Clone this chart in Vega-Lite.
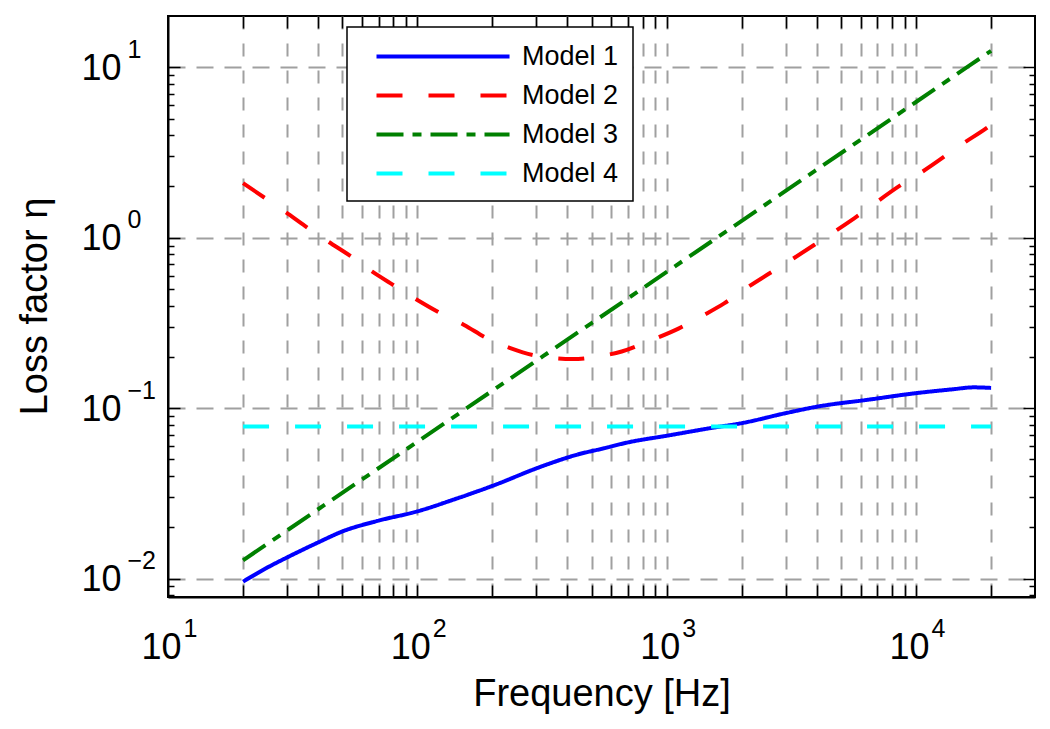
{
  "$schema": "https://vega.github.io/schema/vega-lite/v6.json",
  "width": 867,
  "height": 581,
  "autosize": {"type": "none"},
  "padding": {"left": 168, "top": 16, "right": 15, "bottom": 132},
  "background": "white",
  "config": {
    "font": "Liberation Sans",
    "view": {"stroke": "black", "strokeWidth": 2},
    "axis": {"labelFont": "Liberation Sans", "titleFont": "Liberation Sans", "labelColor": "black", "titleColor": "black", "titleFontWeight": "normal", "labelOverlap": false, "labelFlush": false, "labelBound": false}
  },
  "data": {
    "values": [
      {"model": "Model 1", "f": 20, "eta": 0.0096},
      {"model": "Model 1", "f": 25, "eta": 0.0116},
      {"model": "Model 1", "f": 30, "eta": 0.0133},
      {"model": "Model 1", "f": 40, "eta": 0.0163},
      {"model": "Model 1", "f": 50, "eta": 0.0189},
      {"model": "Model 1", "f": 70, "eta": 0.0219},
      {"model": "Model 1", "f": 100, "eta": 0.0248},
      {"model": "Model 1", "f": 140, "eta": 0.0291},
      {"model": "Model 1", "f": 200, "eta": 0.035},
      {"model": "Model 1", "f": 320, "eta": 0.0459},
      {"model": "Model 1", "f": 440, "eta": 0.0535},
      {"model": "Model 1", "f": 550, "eta": 0.0578},
      {"model": "Model 1", "f": 700, "eta": 0.063},
      {"model": "Model 1", "f": 1000, "eta": 0.0689},
      {"model": "Model 1", "f": 1500, "eta": 0.0764},
      {"model": "Model 1", "f": 2000, "eta": 0.0817},
      {"model": "Model 1", "f": 3000, "eta": 0.0935},
      {"model": "Model 1", "f": 4000, "eta": 0.102},
      {"model": "Model 1", "f": 6400, "eta": 0.112},
      {"model": "Model 1", "f": 10000, "eta": 0.1225},
      {"model": "Model 1", "f": 14000, "eta": 0.129},
      {"model": "Model 1", "f": 17000, "eta": 0.1325},
      {"model": "Model 1", "f": 20000, "eta": 0.1315},
      {"model": "Model 2", "f": 20, "eta": 2.09},
      {"model": "Model 2", "f": 24.5, "eta": 1.71},
      {"model": "Model 2", "f": 29.5, "eta": 1.42},
      {"model": "Model 2", "f": 35.5, "eta": 1.17},
      {"model": "Model 2", "f": 44, "eta": 0.947},
      {"model": "Model 2", "f": 54, "eta": 0.78},
      {"model": "Model 2", "f": 66, "eta": 0.632},
      {"model": "Model 2", "f": 80, "eta": 0.528},
      {"model": "Model 2", "f": 100, "eta": 0.431},
      {"model": "Model 2", "f": 124, "eta": 0.36},
      {"model": "Model 2", "f": 154, "eta": 0.308},
      {"model": "Model 2", "f": 190, "eta": 0.257},
      {"model": "Model 2", "f": 236, "eta": 0.225},
      {"model": "Model 2", "f": 300, "eta": 0.203},
      {"model": "Model 2", "f": 420, "eta": 0.194},
      {"model": "Model 2", "f": 540, "eta": 0.202},
      {"model": "Model 2", "f": 660, "eta": 0.215},
      {"model": "Model 2", "f": 840, "eta": 0.246},
      {"model": "Model 2", "f": 1120, "eta": 0.294},
      {"model": "Model 2", "f": 1410, "eta": 0.352},
      {"model": "Model 2", "f": 1700, "eta": 0.412},
      {"model": "Model 2", "f": 2080, "eta": 0.505},
      {"model": "Model 2", "f": 3150, "eta": 0.74},
      {"model": "Model 2", "f": 3900, "eta": 0.906},
      {"model": "Model 2", "f": 5650, "eta": 1.3},
      {"model": "Model 2", "f": 8700, "eta": 2.04},
      {"model": "Model 2", "f": 10600, "eta": 2.44},
      {"model": "Model 2", "f": 15600, "eta": 3.61},
      {"model": "Model 2", "f": 19100, "eta": 4.38},
      {"model": "Model 2", "f": 20000, "eta": 4.6},
      {"model": "Model 3", "f": 20, "eta": 0.0128},
      {"model": "Model 3", "f": 100, "eta": 0.0635},
      {"model": "Model 3", "f": 1000, "eta": 0.63},
      {"model": "Model 3", "f": 10000, "eta": 6.26},
      {"model": "Model 3", "f": 20000, "eta": 12.5},
      {"model": "Model 4", "f": 20, "eta": 0.078},
      {"model": "Model 4", "f": 20000, "eta": 0.078}
    ]
  },
  "layer": [
    {
      "mark": {"type": "line", "strokeWidth": 4, "interpolate": "monotone", "clip": true},
      "encoding": {
        "x": {
          "field": "f", "type": "quantitative",
          "scale": {"type": "log", "domain": [10, 30000], "nice": false},
          "axis": {
            "orient": "bottom",
            "values": [20, 30, 40, 50, 60, 70, 80, 90, 100, 200, 300, 400, 500, 600, 700, 800, 900, 1000, 2000, 3000, 4000, 5000, 6000, 7000, 8000, 9000, 10000, 20000],
            "grid": true, "gridColor": "#a0a0a0", "gridDash": [13, 14], "gridWidth": 2,
            "ticks": true, "tickSize": -12, "tickColor": "black", "tickWidth": 1.5,
            "labels": false,
            "domain": true, "domainColor": "black", "domainWidth": 2,
            "title": "Frequency [Hz]", "titleFontSize": 38, "titleY": 108, "titleBaseline": "alphabetic"
          }
        },
        "y": {
          "field": "eta", "type": "quantitative",
          "scale": {"type": "log", "domain": [0.0078, 20], "nice": false},
          "axis": {
            "orient": "left",
            "values": [0.008, 0.009, 0.01, 0.02, 0.03, 0.04, 0.05, 0.06, 0.07, 0.08, 0.09, 0.1, 0.2, 0.3, 0.4, 0.5, 0.6, 0.7, 0.8, 0.9, 1, 2, 3, 4, 5, 6, 7, 8, 9, 10],
            "grid": true, "gridColor": "#a0a0a0", "gridDash": [17, 11], "gridWidth": 2,
            "gridOpacity": {"condition": {"test": "indexof([0.01, 0.1, 1, 10], datum.value) >= 0", "value": 1}, "value": 0},
            "ticks": true, "tickColor": "black", "tickWidth": 1.5,
            "tickSize": {"condition": {"test": "indexof([0.01, 0.1, 1, 10], datum.value) >= 0", "value": -12}, "value": -6},
            "labels": false,
            "domain": true, "domainColor": "black", "domainWidth": 2,
            "title": "Loss factor η", "titleFontSize": 38, "titleX": -122, "titleY": 290, "titleBaseline": "alphabetic", "titleAngle": -90
          }
        },
        "color": {
          "field": "model", "type": "nominal",
          "scale": {"domain": ["Model 1", "Model 2", "Model 3", "Model 4"], "range": ["#0000ff", "#ff0000", "#008000", "#00ffff"]},
          "legend": {
            "title": null, "orient": "none", "legendX": 179, "legendY": 11,
            "symbolType": "M0,0H10", "symbolSize": 708, "symbolStrokeWidth": 4,
            "labelFontSize": 27, "labelFont": "Liberation Sans", "labelColor": "black", "labelOffset": 130, "labelLimit": 0,
            "rowPadding": 10, "padding": 14, "strokeColor": "black", "fillColor": "white",
            "encode": {"legend": {"update": {"strokeWidth": {"value": 1.5}}}}
          }
        },
        "strokeDash": {
          "field": "model", "type": "nominal",
          "scale": {"domain": ["Model 1", "Model 2", "Model 3", "Model 4"], "range": [[1, 0], [26, 26], [27, 9, 9, 9], [26, 26]]},
          "legend": {
            "title": null, "orient": "none", "legendX": 179, "legendY": 11,
            "symbolType": "M0,0H10", "symbolSize": 708, "symbolStrokeWidth": 4,
            "labelFontSize": 27, "labelFont": "Liberation Sans", "labelColor": "black", "labelOffset": 130, "labelLimit": 0,
            "rowPadding": 10, "padding": 14, "strokeColor": "black", "fillColor": "white",
            "encode": {"legend": {"update": {"strokeWidth": {"value": 1.5}}}}
          }
        }
      }
    },
    {
      "mark": {"type": "line", "strokeOpacity": 0},
      "encoding": {
        "x": {
          "field": "f", "type": "quantitative",
          "scale": {"type": "log", "domain": [10, 30000], "nice": false},
          "axis": {"orient": "bottom", "values": [10, 100, 1000, 10000], "labelExpr": "'10'", "grid": false, "ticks": false, "tickSize": 0, "domain": false, "labelFontSize": 36, "labelAlign": "right", "labelOffset": 13, "labelBaseline": "alphabetic", "labelPadding": 61, "title": null}
        },
        "y": {
          "field": "eta", "type": "quantitative",
          "scale": {"type": "log", "domain": [0.0078, 20], "nice": false},
          "axis": {"orient": "left", "values": [0.01, 0.1, 1, 10], "labelExpr": "'10'", "grid": false, "ticks": false, "tickSize": 0, "domain": false, "labelFontSize": 36, "labelAlign": "right", "labelBaseline": "middle", "labelOffset": 1, "labelPadding": 47, "title": null}
        }
      }
    },
    {
      "mark": {"type": "line", "strokeOpacity": 0},
      "encoding": {
        "x": {
          "field": "f", "type": "quantitative",
          "scale": {"type": "log", "domain": [10, 30000], "nice": false},
          "axis": {"orient": "bottom", "values": [10, 100, 1000, 10000], "labelExpr": "'' + round(log(datum.value) / LN10)", "grid": false, "ticks": false, "tickSize": 0, "domain": false, "labelFontSize": 25, "labelAlign": "left", "labelOffset": 15, "labelBaseline": "alphabetic", "labelPadding": 39, "title": null}
        },
        "y": {
          "field": "eta", "type": "quantitative",
          "scale": {"type": "log", "domain": [0.0078, 20], "nice": false},
          "axis": {"orient": "left", "values": [0.01, 0.1, 1, 10], "labelExpr": "replace('' + round(log(datum.value) / LN10), '-', '−')", "grid": false, "ticks": false, "tickSize": 0, "domain": false, "labelFontSize": 25, "labelAlign": "left", "labelBaseline": "alphabetic", "labelOffset": -10, "labelPadding": 41, "title": null}
        }
      }
    },
    {
      "mark": {"type": "line", "strokeOpacity": 0},
      "encoding": {
        "x": {
          "field": "f", "type": "quantitative",
          "scale": {"type": "log", "domain": [10, 30000], "nice": false},
          "axis": {"orient": "top", "values": [20, 30, 40, 50, 60, 70, 80, 90, 100, 200, 300, 400, 500, 600, 700, 800, 900, 1000, 2000, 3000, 4000, 5000, 6000, 7000, 8000, 9000, 10000, 20000], "grid": false, "ticks": true, "tickSize": -12, "tickColor": "black", "tickWidth": 1.5, "labels": false, "domain": false, "title": null}
        },
        "y": {
          "field": "eta", "type": "quantitative",
          "scale": {"type": "log", "domain": [0.0078, 20], "nice": false},
          "axis": {
            "orient": "right",
            "values": [0.008, 0.009, 0.01, 0.02, 0.03, 0.04, 0.05, 0.06, 0.07, 0.08, 0.09, 0.1, 0.2, 0.3, 0.4, 0.5, 0.6, 0.7, 0.8, 0.9, 1, 2, 3, 4, 5, 6, 7, 8, 9, 10],
            "grid": false, "ticks": true, "tickColor": "black", "tickWidth": 1.5,
            "tickSize": {"condition": {"test": "indexof([0.01, 0.1, 1, 10], datum.value) >= 0", "value": -12}, "value": -6},
            "labels": false, "domain": false, "title": null
          }
        }
      }
    }
  ],
  "resolve": {"axis": {"x": "independent", "y": "independent"}}
}
